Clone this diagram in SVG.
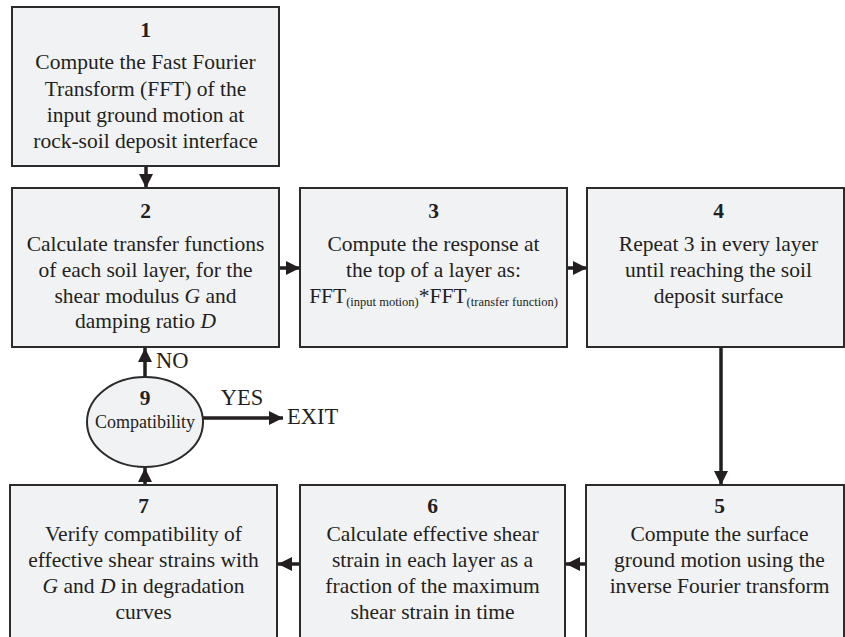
<svg xmlns="http://www.w3.org/2000/svg" width="845" height="637" viewBox="0 0 845 637">
<defs>
<style>
.box{fill:#f1f2f4;stroke:#2b2b2b;stroke-width:2}
.t{font-family:"Liberation Serif","Times New Roman",serif;font-size:21.5px;fill:#231f20;text-anchor:middle}
.n{font-weight:bold}
.sub{font-size:12.5px}
.c{stroke:#231f20;stroke-width:3.5;fill:none;marker-end:url(#ah)}
.lbl{font-family:"Liberation Serif","Times New Roman",serif;font-size:22.5px;fill:#231f20}
</style>
<marker id="ah" markerUnits="userSpaceOnUse" markerWidth="16" markerHeight="16" refX="14" refY="7" orient="auto">
<path d="M0,0 L14,7 L0,14 Z" fill="#231f20"/>
</marker>
</defs>
<rect width="845" height="637" fill="#ffffff"/>
<g id="connectors">
<line class="c" x1="146" y1="167" x2="146" y2="188"/>
<line class="c" x1="280" y1="268" x2="300" y2="268"/>
<line class="c" x1="568" y1="268" x2="587" y2="268"/>
<line class="c" x1="721" y1="348" x2="721" y2="485"/>
<line class="c" x1="586" y1="564" x2="566" y2="564"/>
<line class="c" x1="300" y1="564" x2="278" y2="564"/>
<line class="c" x1="145" y1="485" x2="145" y2="468"/>
<line class="c" x1="145" y1="377" x2="145" y2="348"/>
<line class="c" x1="203" y1="418" x2="283" y2="418"/>
<text class="lbl" x="156" y="368">NO</text>
<text class="lbl" x="242" y="405" text-anchor="middle">YES</text>
<text class="lbl" x="287" y="424">EXIT</text>
</g>
<g id="node1">
<rect class="box" x="12" y="7" width="267" height="159"/>
<text class="t n" x="145.5" y="37">1</text>
<text class="t" x="145.5" y="69">Compute the Fast Fourier</text>
<text class="t" x="145.5" y="96">Transform (FFT) of the</text>
<text class="t" x="145.5" y="122">input ground motion at</text>
<text class="t" x="145.5" y="148">rock-soil deposit interface</text>
</g>
<g id="node2">
<rect class="box" x="12" y="188" width="267" height="159"/>
<text class="t n" x="145.5" y="218">2</text>
<text class="t" x="145.5" y="251">Calculate transfer functions</text>
<text class="t" x="145.5" y="277">of each soil layer, for the</text>
<text class="t" x="145.5" y="303">shear modulus <tspan font-style="italic">G</tspan> and</text>
<text class="t" x="145.5" y="328">damping ratio <tspan font-style="italic">D</tspan></text>
</g>
<g id="node3">
<rect class="box" x="300" y="188" width="267" height="159"/>
<text class="t n" x="433.5" y="218">3</text>
<text class="t" x="433.5" y="251">Compute the response at</text>
<text class="t" x="433.5" y="277">the top of a layer as:</text>
<text class="t" x="433.5" y="303">FFT<tspan class="sub" dy="3">(input motion)</tspan><tspan dy="-3">*FFT</tspan><tspan class="sub" dy="3">(transfer function)</tspan></text>
</g>
<g id="node4">
<rect class="box" x="587" y="188" width="257" height="159"/>
<text class="t n" x="718.5" y="218">4</text>
<text class="t" x="718.5" y="251">Repeat 3 in every layer</text>
<text class="t" x="718.5" y="277">until reaching the soil</text>
<text class="t" x="718.5" y="303">deposit surface</text>
</g>
<g id="node5">
<rect class="box" x="586" y="485" width="258" height="160"/>
<text class="t n" x="719.5" y="513">5</text>
<text class="t" x="719.5" y="541">Compute the surface</text>
<text class="t" x="719.5" y="567">ground motion using the</text>
<text class="t" x="719.5" y="593">inverse Fourier transform</text>
</g>
<g id="node6">
<rect class="box" x="300" y="485" width="265" height="160"/>
<text class="t n" x="432.5" y="513">6</text>
<text class="t" x="432.5" y="541">Calculate effective shear</text>
<text class="t" x="432.5" y="567">strain in each layer as a</text>
<text class="t" x="432.5" y="593">fraction of the maximum</text>
<text class="t" x="432.5" y="619">shear strain in time</text>
</g>
<g id="node7">
<rect class="box" x="10" y="485" width="267" height="160"/>
<text class="t n" x="143.5" y="513">7</text>
<text class="t" x="143.5" y="541">Verify compatibility of</text>
<text class="t" x="143.5" y="567">effective shear strains with</text>
<text class="t" x="143.5" y="593"><tspan font-style="italic">G</tspan> and <tspan font-style="italic">D</tspan> in degradation</text>
<text class="t" x="143.5" y="619">curves</text>
</g>
<g id="node9">
<ellipse class="box" cx="145" cy="422" rx="58" ry="45"/>
<text class="t n" x="145" y="405">9</text>
<text class="t" x="145" y="428" style="font-size:18px">Compatibility</text>
</g>
</svg>
